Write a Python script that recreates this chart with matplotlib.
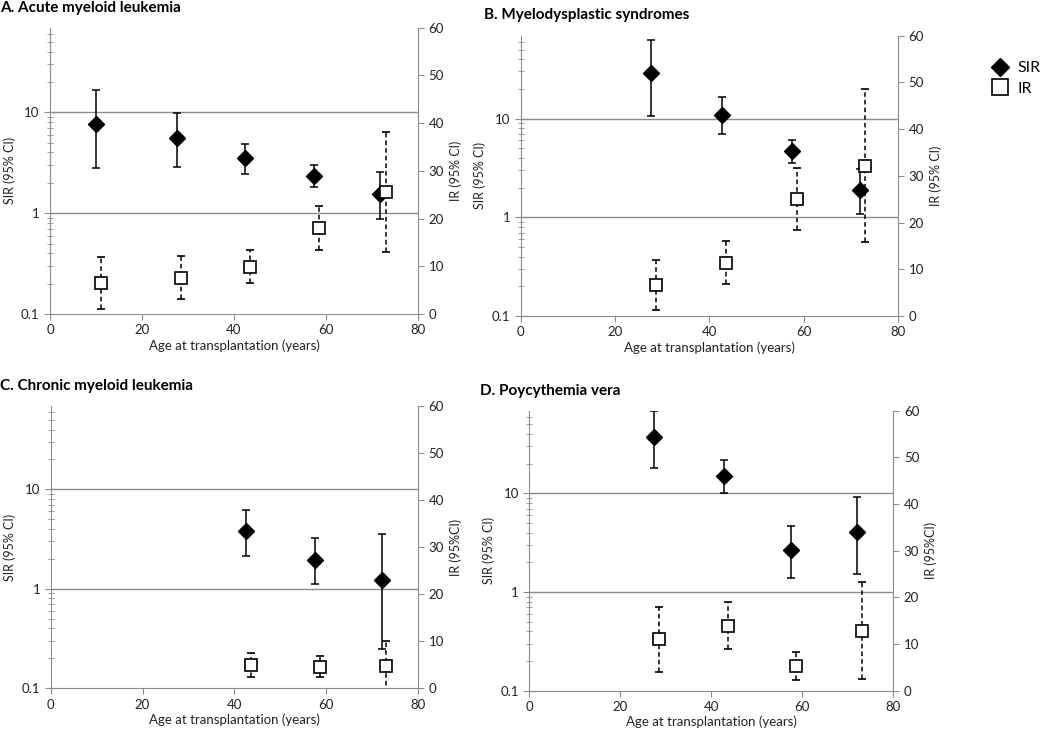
import matplotlib.pyplot as plt
import numpy as np
from matplotlib.lines import Line2D
from matplotlib.ticker import FixedLocator, LogLocator, NullFormatter, FuncFormatter

plt.rcParams['font.family'] = ['Lato', 'DejaVu Sans']

# Panel A - Acute myeloid leukemia
a_sir_age = [10.1, 27.6, 42.5, 57.4, 71.7]
a_sir = [7.6, 5.6, 3.5, 2.33, 1.56]
a_sir_lo = [2.8, 2.9, 2.43, 1.8, 0.885]
a_sir_hi = [16.5, 9.8, 4.9, 3.0, 2.54]
a_ir_age = [11.0, 28.5, 43.5, 58.5, 73.0]
a_ir = [6.6, 7.6, 9.9, 18.0, 25.6]
a_ir_lo = [1.05, 3.1, 6.5, 13.5, 13.0]
a_ir_hi = [11.9, 12.1, 13.5, 22.7, 38.2]

# Panel B - Myelodysplastic syndromes
b_sir_age = [27.6, 42.6, 57.5, 71.9]
b_sir = [28.7, 10.9, 4.7, 1.89]
b_sir_lo = [10.6, 6.9, 3.56, 1.08]
b_sir_hi = [62, 16.5, 6.1, 3.07]
b_ir_age = [28.6, 43.5, 58.5, 73.1]
b_ir = [6.6, 11.4, 25.0, 32.2]
b_ir_lo = [1.2, 6.85, 18.5, 15.8]
b_ir_hi = [12.05, 16.1, 31.7, 48.5]

# Panel C - Chronic myeloid leukemia
c_sir_age = [42.5, 57.6, 72.2]
c_sir = [3.78, 1.95, 1.22]
c_sir_lo = [2.15, 1.11, 0.25]
c_sir_hi = [6.2, 3.27, 3.53]
c_ir_age = [43.6, 58.6, 73.1]
c_ir = [4.96, 4.5, 4.7]
c_ir_lo = [2.5, 2.3, -1.0]
c_ir_hi = [7.4, 6.9, 10.1]

# Panel D - Polycythemia vera
d_sir_age = [27.5, 42.7, 57.6, 72.1]
d_sir = [37.5, 15.0, 2.67, 4.08]
d_sir_lo = [17.9, 10.0, 1.38, 1.52]
d_sir_hi = [68, 21.9, 4.7, 9.1]
d_ir_age = [28.6, 43.6, 58.6, 73.1]
d_ir = [11.07, 13.86, 5.36, 12.86]
d_ir_lo = [4.07, 8.86, 2.29, 2.5]
d_ir_hi = [18.0, 19.0, 8.36, 23.3]

panels = [
    ("A. Acute myeloid leukemia", "IR (95% CI)",
     a_sir_age, a_sir, a_sir_lo, a_sir_hi, a_ir_age, a_ir, a_ir_lo, a_ir_hi),
    ("B. Myelodysplastic syndromes", "IR (95% CI)",
     b_sir_age, b_sir, b_sir_lo, b_sir_hi, b_ir_age, b_ir, b_ir_lo, b_ir_hi),
    ("C. Chronic myeloid leukemia", "IR (95%CI)",
     c_sir_age, c_sir, c_sir_lo, c_sir_hi, c_ir_age, c_ir, c_ir_lo, c_ir_hi),
    ("D. Poycythemia vera", "IR (95%CI)",
     d_sir_age, d_sir, d_sir_lo, d_sir_hi, d_ir_age, d_ir, d_ir_lo, d_ir_hi),
]

# axes rectangles (figure fraction) and title anchors
rects = [[0.0476, 0.5716, 0.3505, 0.3906],
         [0.4959, 0.5689, 0.3593, 0.3824],
         [0.0483, 0.0610, 0.3498, 0.3851],
         [0.5041, 0.0577, 0.3467, 0.3820]]
title_pos = [(0.0, 0.989), (0.461, 0.979), (0.0, 0.474), (0.457, 0.466)]

grey = '#8c8c8c'
txt = '#222222'

fig = plt.figure(figsize=(10.5, 7.33), dpi=100)

for (title, irlab, sx, s, slo, shi, ix, ir, ilo, ihi), rect, tp in zip(panels, rects, title_pos):
    ax = fig.add_axes(rect)
    ax.set_yscale('log')
    ax.set_ylim(0.1, 69)
    ax.set_xlim(0, 80)
    ax.set_xticks([0, 20, 40, 60, 80])
    ax.yaxis.set_major_locator(FixedLocator([0.1, 1, 10]))
    ax.yaxis.set_major_formatter(FuncFormatter(lambda v, p: '%g' % v))
    ax.yaxis.set_minor_locator(LogLocator(base=10, subs=np.arange(2, 10)))
    ax.yaxis.set_minor_formatter(NullFormatter())
    for sp in ['left', 'bottom']:
        ax.spines[sp].set_color(grey)
    ax.spines['top'].set_visible(False)
    ax.spines['right'].set_visible(False)
    ax.tick_params(axis='y', which='major', direction='inout', length=8, color=grey,
                   labelsize=9.5, labelcolor=txt)
    ax.tick_params(axis='y', which='minor', direction='inout', length=5, color=grey)
    ax.tick_params(axis='x', direction='out', length=4, color=grey, labelsize=9.5,
                   labelcolor=txt)
    ax.axhline(1, color=grey, lw=1, zorder=0)
    ax.axhline(10, color=grey, lw=1, zorder=0)

    s = np.array(s)
    ax.errorbar(sx, s, yerr=[s - np.array(slo), np.array(shi) - s], fmt='D',
                color='black', ms=8, elinewidth=1.1, capsize=3, capthick=1.1)
    ax.set_ylabel('SIR (95% CI)', fontsize=9, color=txt, labelpad=4)
    ax.set_xlabel('Age at transplantation (years)', fontsize=9.5, color=txt, labelpad=2)

    ax2 = ax.twinx()
    ax2.set_ylim(0, 60)
    ax2.set_yticks(range(0, 61, 10))
    for sp in ['left', 'bottom', 'top']:
        ax2.spines[sp].set_visible(False)
    ax2.spines['right'].set_color(grey)
    ax2.tick_params(axis='y', direction='out', length=4, color=grey, labelsize=9.5,
                    labelcolor=txt)
    ir = np.array(ir)
    eb = ax2.errorbar(ix, ir, yerr=[ir - np.array(ilo), np.array(ihi) - ir], fmt='s',
                      mfc='white', mec='black', mew=1.2, ms=9, ecolor='black',
                      elinewidth=1.1, capsize=3, capthick=1.1)
    eb[2][0].set_linestyle((0, (3, 2)))
    ax2.set_ylabel(irlab, fontsize=9, color=txt, labelpad=4)

    fig.text(tp[0], tp[1], title, fontsize=11, fontweight='bold', ha='left', va='center')

handles = [Line2D([], [], marker='D', color='black', ls='none', ms=9),
           Line2D([], [], marker='s', mfc='white', mec='black', mew=1.2, ls='none', ms=11)]
fig.legend(handles, ['SIR', 'IR'], loc='center left', bbox_to_anchor=(0.936, 0.893),
           frameon=False, fontsize=11.5, handletextpad=0.5, labelspacing=0.4,
           borderpad=0, handlelength=1.2)

fig.savefig('out.png', dpi=100)
